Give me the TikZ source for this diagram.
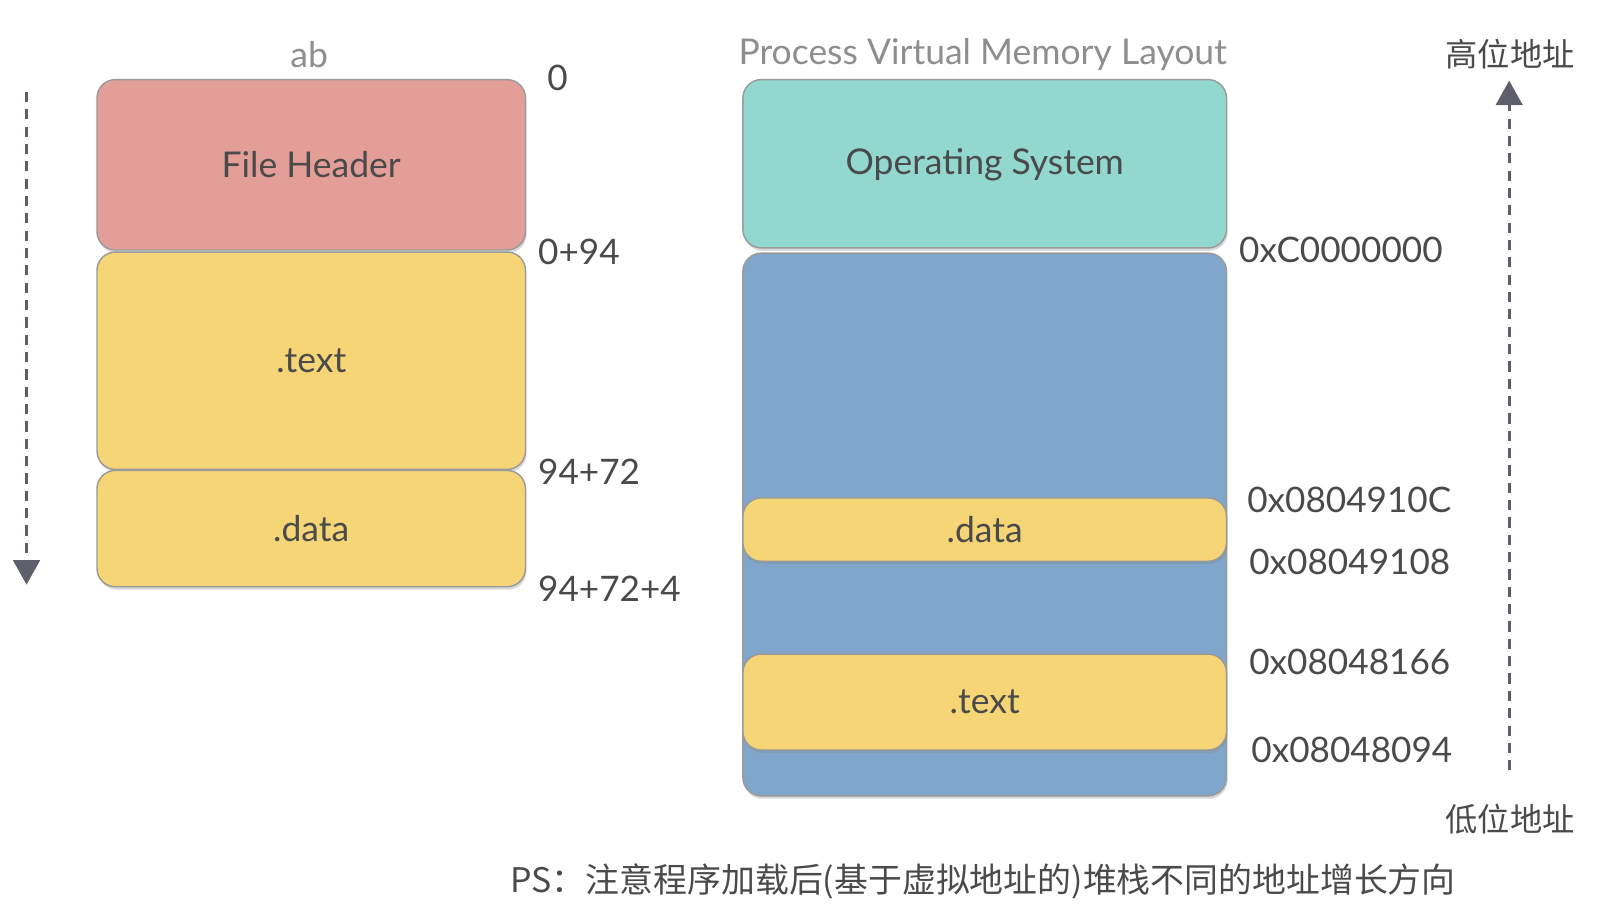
\documentclass[tikz,border=0pt]{standalone}
\usepackage{fontspec}
\setmainfont{Lato}
\newfontfamily\cjk{Noto Sans CJK SC}
\usetikzlibrary{arrows.meta,shadows}
\definecolor{hdr}{HTML}{E39E97}
\definecolor{ylw}{HTML}{F6D577}
\definecolor{osc}{HTML}{92D8CF}
\definecolor{blu}{HTML}{80A7CB}
\definecolor{edge}{HTML}{9A9A9A}
\definecolor{txt}{HTML}{4A4A4A}
\definecolor{ttl}{HTML}{8E8E8E}
\definecolor{arr}{HTML}{5F5F6B}
\begin{document}
\begin{tikzpicture}[x=0.02cm,y=-0.02cm,
  box/.style={draw=edge, line width=0.8pt, rounded corners=0.36cm, inner sep=0pt,
    text=txt, font=\fontsize{19.8}{22}\selectfont,
    drop shadow={opacity=0.3, shadow xshift=0.6pt, shadow yshift=-1.6pt}},
  lbl/.style={anchor=west, inner sep=0pt, text=txt, font=\fontsize{19.6}{22}\selectfont},
  ttlstyle/.style={inner sep=0pt, text=ttl, font=\fontsize{19.8}{22}\selectfont},
  cjklbl/.style={inner sep=0pt, text=txt, font=\cjk\fontsize{18}{20}\selectfont},
  dir/.style={draw=arr, line width=1.6pt, dash pattern=on 0.2cm off 0.14cm,
    -{Triangle[length=0.48cm,width=0.52cm,fill=arr]}}
]
\useasboundingbox (0,0) rectangle (1568,892);

% left column
\node[ttlstyle] (tab) at (303,53) {ab};
\node[box, fill=hdr, minimum width=8.4cm, minimum height=3.34cm] (fh) at (305,161.5) {File Header};
\node[box, fill=ylw, minimum width=8.4cm, minimum height=4.26cm] (ltext) at (305,353.5) {.text};
\node[box, fill=ylw, minimum width=8.4cm, minimum height=2.28cm] (ldata) at (305,518) {.data};

\node[lbl] (l0) at (536,76) {0};
\node[lbl] (l1) at (527,247) {0+94};
\node[lbl] (l2) at (527,462) {94+72};
\node[lbl] (l3) at (527,577) {94+72+4};

\coordinate (la1) at (26,90);
\coordinate (la2) at (26,573);
\draw[dir] (la1) -- (la2);

% right column
\node[ttlstyle] (tpv) at (963,53) {Process Virtual Memory Layout};
\node[box, fill=osc, minimum width=9.48cm, minimum height=3.3cm, text depth=0.1cm] (os) at (965,160.5) {Operating System};
\node[box, fill=blu, minimum width=9.48cm, minimum height=10.64cm] (vm) at (965,514) {};
\node[box, fill=ylw, minimum width=9.48cm, minimum height=1.24cm] (rdata) at (965,519) {.data};
\node[box, fill=ylw, minimum width=9.48cm, minimum height=1.88cm] (rtext) at (965,688) {.text};

\node[lbl] (a0) at (1214,245) {0xC0000000};
\node[lbl] (a1) at (1222,490) {0x0804910C};
\node[lbl] (a2) at (1224,551) {0x08049108};
\node[lbl] (a3) at (1224,649) {0x08048166};
\node[lbl] (a4) at (1226,735) {0x08048094};

\node[cjklbl] (hi) at (1480,53) {高位地址};
\node[cjklbl] (lo) at (1480,803) {低位地址};
\coordinate (ra1) at (1479,755);
\coordinate (ra2) at (1479,79);
\draw[dir] (ra1) -- (ra2);

\node[cjklbl, anchor=west, font=\cjk\fontsize{18.9}{21}\selectfont] (ps) at (500,864) {PS：注意程序加载后(基于虚拟地址的)堆栈不同的地址增长方向};
\end{tikzpicture}
\end{document}
